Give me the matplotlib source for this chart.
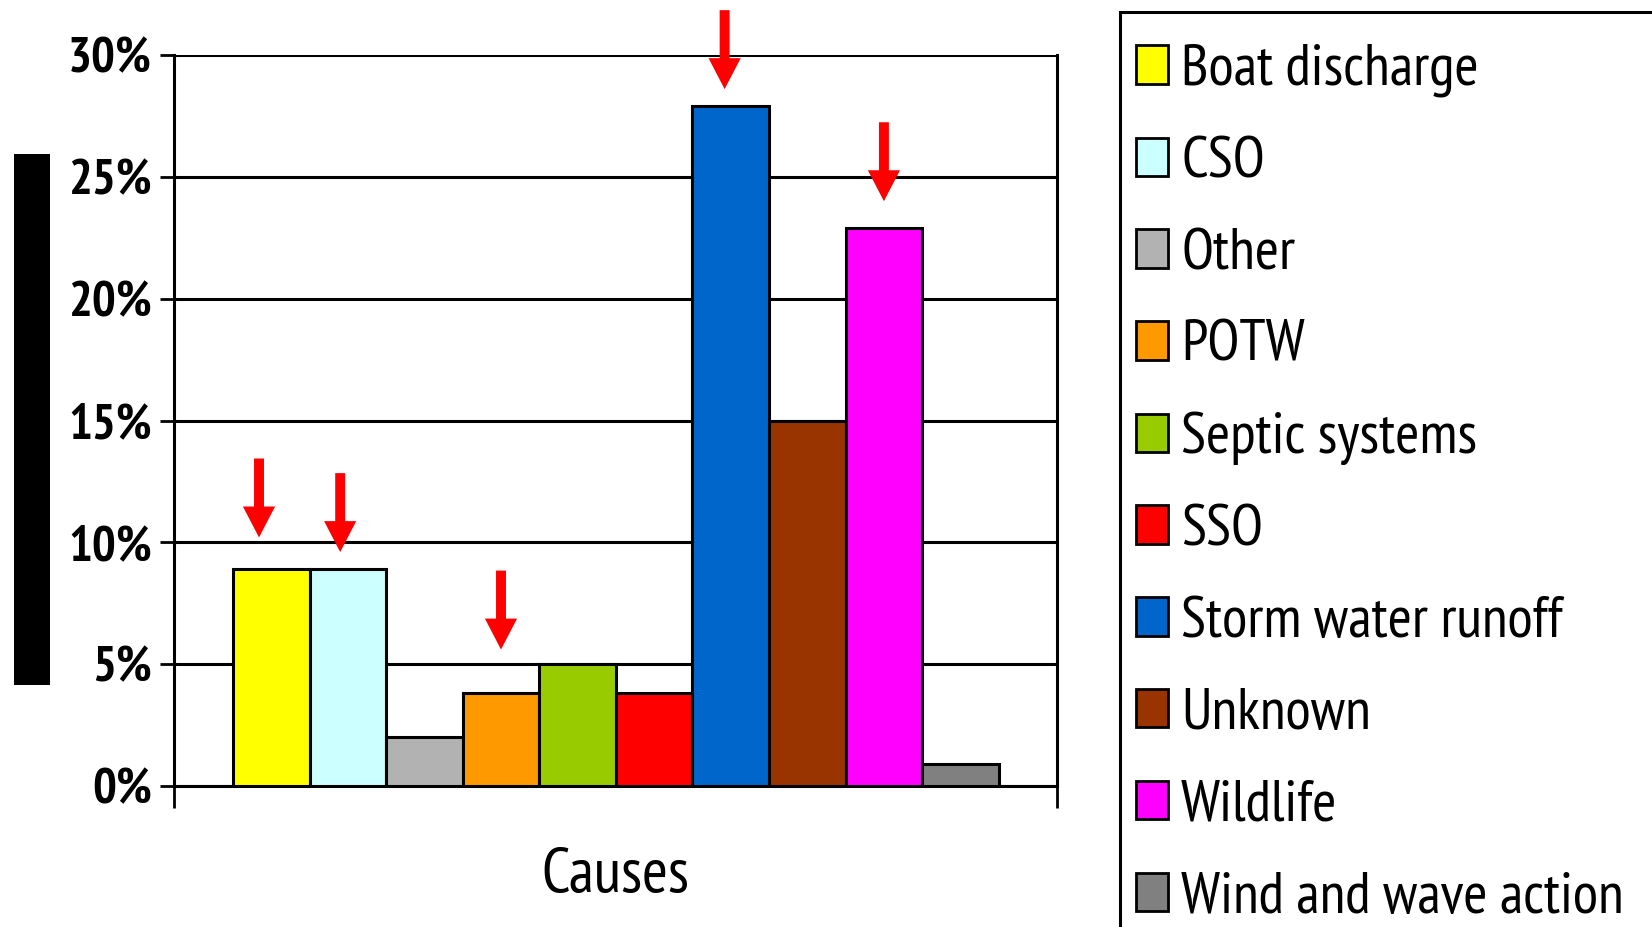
import matplotlib
matplotlib.use("Agg")
import matplotlib.pyplot as plt
from matplotlib import font_manager
from matplotlib.patches import Rectangle, FancyArrow

causes = ["Boat discharge", "CSO", "Other", "POTW", "Septic systems", "SSO",
          "Storm water runoff", "Unknown", "Wildlife", "Wind and wave action"]
shares = [8.9, 8.9, 2.0, 3.8, 5.0, 3.8, 27.9, 15.0, 22.9, 0.9]
colors = ["#FFFF00", "#CCFFFF", "#B2B2B2", "#FF9900", "#99CC00", "#FF0000",
          "#0066CC", "#993300", "#FF00FF", "#808080"]
y_ticks = [0, 5, 10, 15, 20, 25, 30]
y_tick_labels = ["0%", "5%", "10%", "15%", "20%", "25%", "30%"]

# causes marked with a red arrow, and where the arrow tip sits (in %)
flagged = ["Boat discharge", "CSO", "POTW", "Storm water runoff", "Wildlife"]
arrow_tips = [10.2, 9.6, 5.6, 28.6, 24.0]
arrow_shift = [-0.16, -0.10, 0.0, -0.08, 0.0]


def weight_num(w):
    if isinstance(w, int):
        return w
    return {"bold": 700, "heavy": 800, "black": 900, "demibold": 600,
            "semibold": 600}.get(str(w).lower(), 400)


def pick_font():
    # the original uses a narrow face; prefer one that also has a bold cut
    fonts = font_manager.fontManager.ttflist
    narrow = [f for f in fonts if "Narrow" in f.name or "Condensed" in f.name]
    if not narrow:
        return "Liberation Sans", False
    names = sorted(set(f.name for f in narrow),
                   key=lambda n: (0 if "Narrow" in n else 1, n))
    for n in names:
        if any(f.name == n and weight_num(f.weight) >= 600 for f in narrow):
            return n, True
    return names[0], True


font, narrow = pick_font()
plt.rcParams["font.family"] = [font, "DejaVu Sans"]

if narrow:
    legend_size, tick_size, label_size = 42, 36, 45
else:
    legend_size, tick_size, label_size = 33, 31, 36

fig = plt.figure(figsize=(16.52, 9.27), dpi=100)
ax = fig.add_axes([174 / 1652, 1 - 786 / 927, 883 / 1652, 731 / 927])

x = list(range(len(causes)))
ax.bar(x, shares, width=1.0, color=colors, edgecolor="black",
       linewidth=2.2, zorder=3)

ax.set_ylim(0, 30)
ax.set_xlim(-1.27, 10.26)
ax.set_yticks(y_ticks)
ax.set_yticklabels(y_tick_labels, fontsize=tick_size, fontweight="bold")
ax.grid(axis="y", color="black", linewidth=2.2, zorder=0)
ax.set_axisbelow(True)

ax.set_xticks([-1.27, 10.26])
ax.set_xticklabels(["", ""])
ax.tick_params(axis="x", direction="out", length=16, width=2)
ax.tick_params(axis="y", direction="out", length=10, width=2, pad=6)

for side in ["left", "right", "bottom"]:
    ax.spines[side].set_linewidth(2.2)
ax.spines["top"].set_visible(False)

ax.set_xlabel("Causes", fontsize=label_size)
ax.xaxis.set_label_coords(0.5, -0.085)

# red arrows pointing down at the flagged causes
for name, tip, shift in zip(flagged, arrow_tips, arrow_shift):
    i = causes.index(name)
    arr = FancyArrow(i + shift, tip + 3.24, 0, -3.24, width=0.13,
                     head_width=0.42, head_length=1.27,
                     length_includes_head=True, color="#FF0000",
                     linewidth=0, clip_on=False, zorder=5)
    ax.add_patch(arr)

# black bar on the far left
fig.patches.append(Rectangle((14 / 1652, 1 - 685 / 927), 36 / 1652, 531 / 927,
                             transform=fig.transFigure, facecolor="black",
                             edgecolor="none"))

# legend frame running off the right and bottom edges
fig.patches.append(Rectangle((1120 / 1652, -0.05), 0.5, 1.05 - 12 / 927,
                             transform=fig.transFigure, facecolor="none",
                             edgecolor="black", linewidth=2.2))

px = legend_size * 100 / 72
handles = [Rectangle((0, 0), 1, 1, facecolor=c, edgecolor="black", linewidth=2)
           for c in colors]
ax.legend(handles, causes, loc="upper left",
          bbox_to_anchor=(1136 / 1652, 1 - (71 - 0.465 * px) / 927),
          bbox_transform=fig.transFigure, frameon=False, fontsize=legend_size,
          handlelength=32 / px, handleheight=37 / px, handletextpad=13 / px,
          labelspacing=(93.1 - 0.93 * px) / px, borderpad=0, borderaxespad=0)

fig.savefig("out.png", dpi=100)
